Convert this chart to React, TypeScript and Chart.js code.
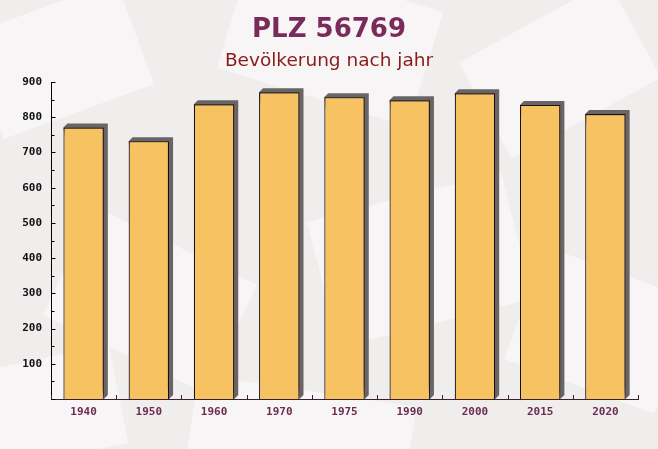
import React, { useEffect, useRef } from "react";
import { Chart, registerables } from "chart.js";

Chart.register(...registerables);

const categories = ["1940", "1950", "1960", "1970", "1975", "1990", "2000", "2015", "2020"];
const population = [771, 732, 837, 871, 857, 848, 868, 835, 809];
const titleText = "PLZ 56769";
const subtitleText = "Bevölkerung nach jahr";
const yMax = 900;
const yStep = 50;

const bgPlugin = {
  id: "bgDeco",
  beforeDraw(chart: any) {
    const { ctx, width, height } = chart;
    ctx.save();
    ctx.fillStyle = "#f0eded";
    ctx.fillRect(0, 0, width, height);
    const shapes = [
      [60, 60, 160, 110, -0.35],
      [330, 40, 200, 120, 0.3],
      [560, 70, 170, 110, -0.5],
      [150, 300, 180, 120, 0.45],
      [420, 260, 200, 130, -0.25],
      [600, 330, 160, 120, 0.35],
      [40, 410, 160, 100, -0.2],
      [300, 440, 220, 100, 0.15],
    ];
    ctx.fillStyle = "rgba(255,255,255,0.45)";
    for (const [x, y, w, h, r] of shapes) {
      ctx.save();
      ctx.translate(x, y);
      ctx.rotate(r);
      ctx.fillRect(-w / 2, -h / 2, w, h);
      ctx.restore();
    }
    ctx.restore();
  },
};

const shadowPlugin = {
  id: "barShadow",
  beforeDatasetsDraw(chart: any) {
    const { ctx } = chart;
    const meta = chart.getDatasetMeta(0);
    const d = 4;
    ctx.save();
    for (const el of meta.data) {
      const { x, y, base, width } = el.getProps(["x", "y", "base", "width"], true);
      const l = x - width / 2;
      const r = x + width / 2;
      ctx.fillStyle = "#6a6464";
      ctx.beginPath();
      ctx.moveTo(l, y);
      ctx.lineTo(l + d, y - d);
      ctx.lineTo(r + d, y - d);
      ctx.lineTo(r + d, base - d);
      ctx.lineTo(r, base);
      ctx.closePath();
      ctx.fill();
    }
    ctx.restore();
  },
  afterDraw(chart: any) {
    const { ctx, chartArea } = chart;
    const ys = chart.scales.y;
    const xs = chart.scales.x;
    ctx.save();
    ctx.lineWidth = 1;
    ctx.strokeStyle = "#000";
    const ax = Math.round(chartArea.left) + 0.5;
    for (const t of ys.ticks) {
      const py = Math.round(ys.getPixelForValue(t.value)) + 0.5;
      const len = t.value % 100 === 0 ? 4 : 3;
      ctx.beginPath();
      ctx.moveTo(ax, py);
      ctx.lineTo(ax + len, py);
      ctx.stroke();
    }
    ctx.strokeStyle = "#3a1f30";
    const step = xs.getPixelForValue(1) - xs.getPixelForValue(0);
    const by = Math.round(chartArea.bottom);
    for (let i = 0; i <= categories.length; i++) {
      const px = i < categories.length ? xs.getPixelForValue(i) - step / 2 : chartArea.right;
      const qx = Math.round(px) + 0.5;
      ctx.beginPath();
      ctx.moveTo(qx, by);
      ctx.lineTo(qx, by - 4);
      ctx.stroke();
    }
    ctx.restore();
  },
};

export default function App() {
  const ref = useRef<HTMLCanvasElement | null>(null);
  useEffect(() => {
    document.body.style.margin = "0";
    const canvas = ref.current;
    if (!canvas) return;
    const chart = new Chart(canvas, {
      type: "bar",
      data: {
        labels: categories,
        datasets: [
          {
            data: population,
            backgroundColor: "#f7c262",
            borderColor: "#1a1010",
            borderWidth: 1.2,
            borderSkipped: "bottom",
            categoryPercentage: 0.62,
            barPercentage: 1,
          },
        ],
      },
      options: {
        responsive: false,
        animation: false,
        devicePixelRatio: 1,
        layout: { padding: { left: 0, right: 0, top: 0, bottom: 0 } },
        plugins: {
          legend: { display: false },
          tooltip: { enabled: false },
          title: {
            display: true,
            text: titleText,
            color: "#7b2b5a",
            font: { family: "DejaVu Sans", size: 26, weight: "bold", lineHeight: 1.2 },
            padding: { top: 15, bottom: 4 },
          },
          subtitle: {
            display: true,
            text: subtitleText,
            color: "#8b1a1a",
            font: { family: "DejaVu Sans", size: 18.5, weight: "normal", lineHeight: 1.2 },
            padding: { top: 0, bottom: 9.6 },
          },
        },
        scales: {
          x: {
            grid: { display: false, drawTicks: false },
            border: { display: true, color: "#3a1f30", width: 1 },
            ticks: {
              color: "#6b2d52",
              font: { family: "DejaVu Sans Mono", size: 11, weight: "bold" },
              padding: 7,
              maxRotation: 0,
            },
            afterFit(scale: any) {
              scale.height = 50;
            },
          },
          y: {
            min: 0,
            max: yMax,
            grid: { display: false, drawTicks: false },
            border: { display: true, color: "#000", width: 1 },
            ticks: {
              stepSize: yStep,
              color: "#111",
              font: { family: "DejaVu Sans Mono", size: 11, weight: "bold" },
              padding: 9,
              callback: (v: any) => (Number(v) % 100 === 0 && Number(v) !== 0 ? String(v) : ""),
            },
            afterFit(scale: any) {
              scale.width = 51;
            },
          },
          yRight: {
            position: "right",
            display: true,
            min: 0,
            max: yMax,
            grid: { display: false, drawTicks: false },
            border: { display: false },
            ticks: { display: false },
            afterFit(scale: any) {
              scale.width = 20;
            },
          },
        },
      },
      plugins: [bgPlugin, shadowPlugin],
    });
    return () => chart.destroy();
  }, []);
  return <canvas ref={ref} width={658} height={449} style={{ display: "block" }} />;
}
